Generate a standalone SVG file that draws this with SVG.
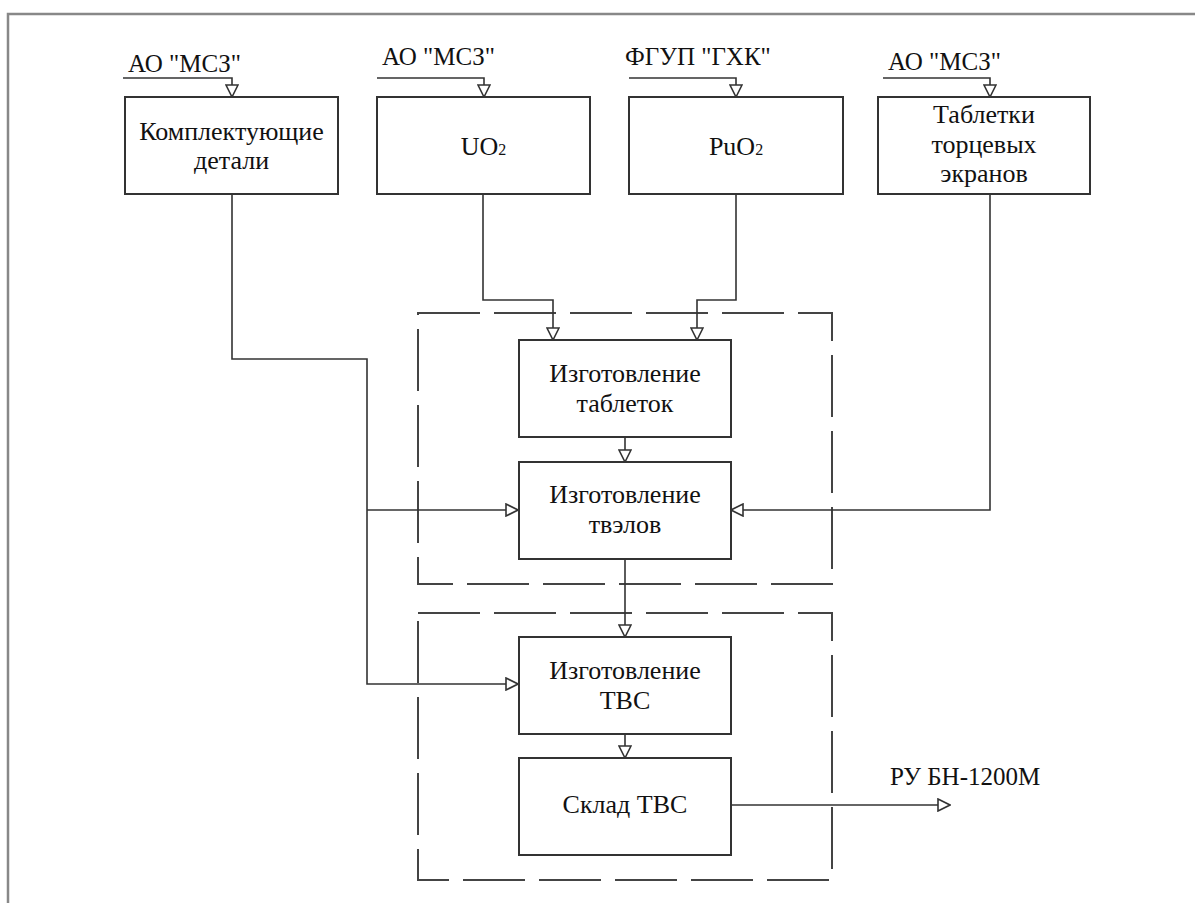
<svg xmlns="http://www.w3.org/2000/svg" width="1195" height="903" viewBox="0 0 1195 903">
<style>
.box{fill:#fff;stroke:#333;stroke-width:2}
.grp{fill:none;stroke:#444;stroke-width:2;stroke-dasharray:62 14}
.ln{fill:none;stroke:#333;stroke-width:1.6}
.t{font-family:"Liberation Serif","DejaVu Serif","Times New Roman",serif;font-size:26px;fill:#111;text-anchor:middle}
.lbl{font-family:"Liberation Serif","DejaVu Serif","Times New Roman",serif;font-size:25px;fill:#111}
.frame{fill:none;stroke:#888;stroke-width:2.5}
</style>
<defs>
<marker id="arr" viewBox="0 0 14 14" refX="13" refY="7" markerWidth="14" markerHeight="14" markerUnits="userSpaceOnUse" orient="auto">
<path d="M1,1 L13,7 L1,13 Z" fill="#fff" stroke="#333" stroke-width="1.6"/>
</marker>
</defs>
<rect width="1195" height="903" fill="#fff"/>
<path class="frame" d="M8,903 V14 H1195"/>
<g id="groups">
<rect id="group1" class="grp" x="418" y="313" width="414" height="271"/>
<rect id="group2" class="grp" x="418" y="613" width="414" height="267"/>
</g>
<g id="connectors">
<path class="ln" d="M123,78 H232 V97" marker-end="url(#arr)"/>
<path class="ln" d="M377,78 H484 V97" marker-end="url(#arr)"/>
<path class="ln" d="M629,78 H736 V97" marker-end="url(#arr)"/>
<path class="ln" d="M883,78 H990 V97" marker-end="url(#arr)"/>
<path class="ln" d="M232,194 V359 H367 V684 H518" marker-end="url(#arr)"/>
<path class="ln" d="M367,510 H518" marker-end="url(#arr)"/>
<path class="ln" d="M483,194 V300 H553 V340" marker-end="url(#arr)"/>
<path class="ln" d="M736,194 V300 H697 V340" marker-end="url(#arr)"/>
<path class="ln" d="M990,194 V510 H731" marker-end="url(#arr)"/>
<path class="ln" d="M625,437 V462" marker-end="url(#arr)"/>
<path class="ln" d="M625,559 V637" marker-end="url(#arr)"/>
<path class="ln" d="M625,734 V758" marker-end="url(#arr)"/>
<path class="ln" d="M731,805 H950" marker-end="url(#arr)"/>
</g>
<g id="labels">
<text class="lbl" x="128" y="72">АО "МСЗ"</text>
<text class="lbl" x="382" y="65">АО "МСЗ"</text>
<text class="lbl" x="625" y="65">ФГУП "ГХК"</text>
<text class="lbl" x="888" y="70">АО "МСЗ"</text>
<text class="lbl" x="890" y="785">РУ БН-1200М</text>
</g>
<g id="n-parts">
<rect class="box" x="125" y="97" width="213" height="97"/>
<text class="t" x="231.5" y="140">Комплектующие</text>
<text class="t" x="231.5" y="169">детали</text>
</g>
<g id="n-uo2">
<rect class="box" x="377" y="97" width="213" height="97"/>
<text class="t" x="483.5" y="155">UO<tspan font-size="16">2</tspan></text>
</g>
<g id="n-puo2">
<rect class="box" x="629" y="97" width="214" height="97"/>
<text class="t" x="736" y="155">PuO<tspan font-size="16">2</tspan></text>
</g>
<g id="n-screens">
<rect class="box" x="878" y="97" width="212" height="97"/>
<text class="t" x="984" y="123">Таблетки</text>
<text class="t" x="984" y="153">торцевых</text>
<text class="t" x="984" y="182">экранов</text>
</g>
<g id="n-pellets">
<rect class="box" x="519" y="340" width="212" height="97"/>
<text class="t" x="625" y="382">Изготовление</text>
<text class="t" x="625" y="412">таблеток</text>
</g>
<g id="n-rods">
<rect class="box" x="519" y="462" width="212" height="97"/>
<text class="t" x="625" y="503">Изготовление</text>
<text class="t" x="625" y="533">твэлов</text>
</g>
<g id="n-fa">
<rect class="box" x="519" y="637" width="212" height="97"/>
<text class="t" x="625" y="679">Изготовление</text>
<text class="t" x="625" y="709">ТВС</text>
</g>
<g id="n-store">
<rect class="box" x="519" y="758" width="212" height="97"/>
<text class="t" x="625" y="813">Склад ТВС</text>
</g>
</svg>
